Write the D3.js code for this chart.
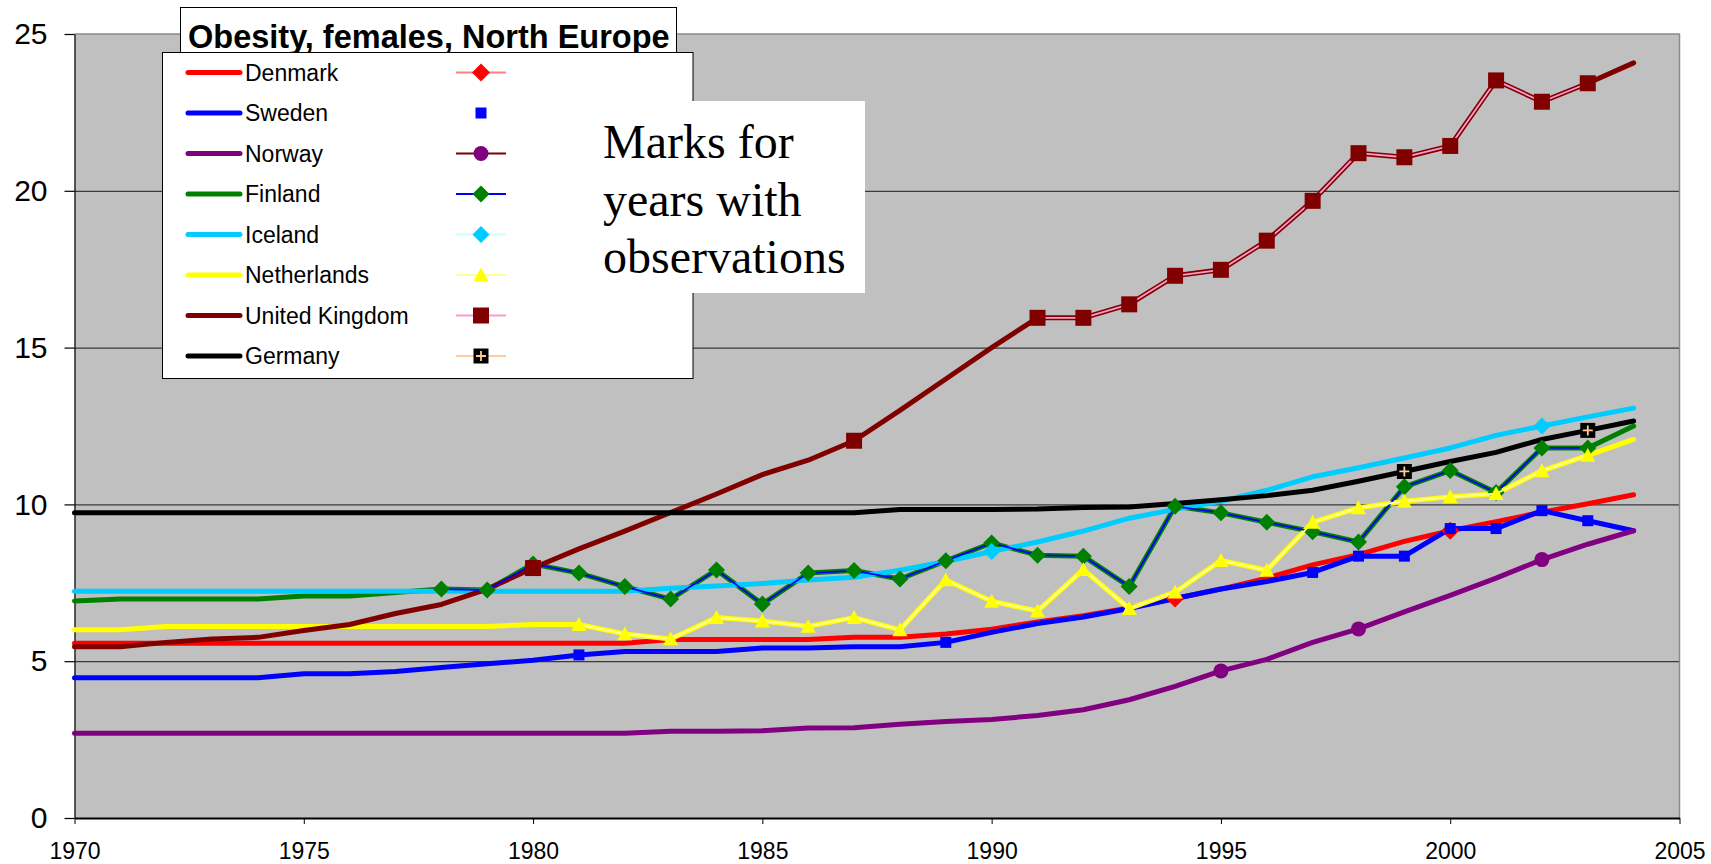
<!DOCTYPE html>
<html>
<head>
<meta charset="utf-8">
<script src="https://cdn.jsdelivr.net/npm/d3@7"></script>
<style>
  body { margin: 0; background: #fff; }
  svg { display: block; font-family: "Liberation Sans", Arial, sans-serif; }
</style>
</head>
<body>
<svg id="chart" width="1711" height="864"></svg>
<script>
// data
const years = [1970, 1971, 1972, 1973, 1974, 1975, 1976, 1977, 1978, 1979,
  1980, 1981, 1982, 1983, 1984, 1985, 1986, 1987, 1988, 1989,
  1990, 1991, 1992, 1993, 1994, 1995, 1996, 1997, 1998, 1999,
  2000, 2001, 2002, 2003, 2004]
const countries = ["Denmark", "Sweden", "Norway", "Finland", "Iceland", "Netherlands", "United Kingdom", "Germany"]

const denmark = [5.57, 5.57, 5.57, 5.57, 5.57, 5.57, 5.57, 5.57, 5.57, 5.57,
  5.57, 5.57, 5.57, 5.69, 5.69, 5.69, 5.69, 5.76, 5.76, 5.87,
  6.02, 6.25, 6.45, 6.7, 7.0, 7.3, 7.65, 8.07, 8.4, 8.82,
  9.16, 9.45, 9.75, 10.02, 10.31]
const sweden = [4.47, 4.47, 4.47, 4.47, 4.47, 4.6, 4.6, 4.67, 4.8, 4.92,
  5.03, 5.2, 5.31, 5.31, 5.31, 5.42, 5.42, 5.46, 5.46, 5.6,
  5.92, 6.2, 6.41, 6.68, 7.0, 7.3, 7.54, 7.83, 8.35, 8.35,
  9.23, 9.23, 9.8, 9.48, 9.16]
const norway = [2.7, 2.7, 2.7, 2.7, 2.7, 2.7, 2.7, 2.7, 2.7, 2.7,
  2.7, 2.7, 2.7, 2.77, 2.77, 2.78, 2.87, 2.88, 2.99, 3.08,
  3.14, 3.27, 3.45, 3.77, 4.2, 4.69, 5.06, 5.6, 6.03, 6.57,
  7.1, 7.65, 8.24, 8.73, 9.16]
const finland = [6.92, 6.98, 6.98, 6.98, 6.98, 7.08, 7.08, 7.19, 7.3, 7.27,
  8.1, 7.81, 7.38, 6.98, 7.91, 6.82, 7.81, 7.89, 7.62, 8.2,
  8.77, 8.38, 8.35, 7.38, 9.94, 9.73, 9.43, 9.13, 8.8, 10.56,
  11.08, 10.38, 11.8, 11.8, 12.5]
const iceland = [7.23, 7.23, 7.23, 7.23, 7.23, 7.23, 7.23, 7.23, 7.23, 7.23,
  7.23, 7.23, 7.23, 7.33, 7.4, 7.48, 7.59, 7.68, 7.9, 8.18,
  8.5, 8.8, 9.15, 9.56, 9.84, 10.1, 10.45, 10.88, 11.17, 11.48,
  11.8, 12.2, 12.5, 12.79, 13.07]
const netherlands = [6.0, 6.0, 6.11, 6.11, 6.11, 6.11, 6.11, 6.11, 6.11, 6.11,
  6.17, 6.17, 5.87, 5.71, 6.39, 6.28, 6.11, 6.39, 6.0, 7.59,
  6.91, 6.6, 7.92, 6.68, 7.2, 8.21, 7.9, 9.43, 9.89, 10.1,
  10.24, 10.34, 11.07, 11.56, 12.07]
const uk = [5.46, 5.46, 5.6, 5.71, 5.76, 5.98, 6.17, 6.52, 6.81, 7.3,
  7.97, 8.58, 9.15, 9.74, 10.33, 10.95, 11.41, 12.03, 13.0, 14.0,
  15.0, 15.95, 15.95, 16.38, 17.29, 17.48, 18.41, 19.68, 21.2, 21.07,
  21.43, 23.52, 22.84, 23.43, 24.08]
const germany = [9.73, 9.73, 9.73, 9.73, 9.73, 9.73, 9.73, 9.73, 9.73, 9.73,
  9.73, 9.73, 9.73, 9.73, 9.73, 9.73, 9.73, 9.73, 9.84, 9.84,
  9.84, 9.85, 9.9, 9.92, 10.03, 10.15, 10.28, 10.45, 10.74, 11.05,
  11.37, 11.66, 12.07, 12.36, 12.66]

// years with observations (marked)
const denmarkObs = [1994, 2000]
const swedenObs = [1981, 1989, 1997, 1998, 1999, 2000, 2001, 2002, 2003]
const norwayObs = [1995, 1998, 2002]
const finlandObs = [1978, 1979, 1980, 1981, 1982, 1983, 1984, 1985, 1986, 1987, 1988, 1989, 1990,
  1991, 1992, 1993, 1994, 1995, 1996, 1997, 1998, 1999, 2000, 2001, 2002, 2003]
const icelandObs = [1990, 2002]
const netherlandsObs = [1981, 1982, 1983, 1984, 1985, 1986, 1987, 1988, 1989, 1990, 1991, 1992,
  1993, 1994, 1995, 1996, 1997, 1998, 1999, 2000, 2001, 2002, 2003]
const ukObs = [1980, 1987, 1991, 1992, 1993, 1994, 1995, 1996, 1997, 1998, 1999, 2000, 2001, 2002, 2003]
const germanyObs = [1999, 2003]

const xTicks = [1970, 1975, 1980, 1985, 1990, 1995, 2000, 2005]
const yTicks = [0, 5, 10, 15, 20, 25]
const title = "Obesity, females, North Europe"
const note = ["Marks for", "years with", "observations"]

const series = [
  { name: countries[0], values: denmark, obs: denmarkObs },
  { name: countries[1], values: sweden, obs: swedenObs },
  { name: countries[2], values: norway, obs: norwayObs },
  { name: countries[3], values: finland, obs: finlandObs },
  { name: countries[4], values: iceland, obs: icelandObs },
  { name: countries[5], values: netherlands, obs: netherlandsObs },
  { name: countries[6], values: uk, obs: ukObs },
  { name: countries[7], values: germany, obs: germanyObs },
]

// look of each country
const styles = {
  "Denmark": { line: "#ff0000", shape: "diamond", fill: "#ff0000", markLine: "#ff8080", r: 9 },
  "Sweden": { line: "#0000ff", shape: "square", fill: "#0000ff", markLine: null, r: 5.5 },
  "Norway": { line: "#800080", shape: "circle", fill: "#800080", markLine: "#800000", r: 7.5 },
  "Finland": { line: "#008000", shape: "diamond", fill: "#008000", markLine: "#0000ff", r: 8.5 },
  "Iceland": { line: "#00ccff", shape: "diamond", fill: "#00ccff", markLine: "#ccffff", r: 8.5 },
  "Netherlands": { line: "#ffff00", shape: "triangle", fill: "#ffff00", markLine: "#ffff99", r: 7.5 },
  "United Kingdom": { line: "#800000", shape: "square", fill: "#800000", markLine: "#ff99cc", r: 8 },
  "Germany": { line: "#000000", shape: "plus", fill: "#000000", markLine: "#ffcc99", r: 7.5 },
}

const svg = d3.select("#chart")
const x = d3.scaleLinear().domain([1970, 2005]).range([74.5, 1679.5])
const y = d3.scaleLinear().domain([0, 25]).range([818, 34])
const plotW = x(2005) - x(1970)

// plot area
svg.append("rect")
  .attr("x", x(1970)).attr("y", y(25))
  .attr("width", plotW).attr("height", y(0) - y(25))
  .attr("fill", "#c0c0c0")

const grid = svg.append("g")
  .attr("transform", `translate(${x(1970)},0)`)
  .call(d3.axisLeft(y).tickValues(yTicks.filter(v => v > 0 && v < 25)).tickSize(-plotW).tickFormat(""))
grid.select(".domain").remove()
grid.selectAll("line").attr("stroke", "#3a3a3a").attr("stroke-width", 1.2)

svg.append("path")
  .attr("d", `M${x(1970)},${y(25)}H${x(2005)}V${y(0)}`)
  .attr("fill", "none").attr("stroke", "#8a8a8a").attr("stroke-width", 1.5)

const yAxis = svg.append("g")
  .attr("transform", `translate(${x(1970)},0)`)
  .call(d3.axisLeft(y).tickValues(yTicks).tickSize(10).tickSizeOuter(0).tickPadding(17))
yAxis.selectAll("text").attr("font-size", "30px").attr("fill", "#000")
  .attr("font-family", '"Liberation Sans", Arial, sans-serif')
yAxis.selectAll("line, path").attr("stroke", "#000").attr("stroke-width", 1.2)

const xAxis = svg.append("g")
  .attr("transform", `translate(0,${y(0)})`)
  .call(d3.axisBottom(x).tickValues(xTicks).tickFormat(d3.format("d")).tickSize(6).tickSizeOuter(0).tickPadding(19))
xAxis.selectAll("text").attr("font-size", "23px").attr("fill", "#000")
  .attr("font-family", '"Liberation Sans", Arial, sans-serif')
xAxis.selectAll("line").attr("stroke", "#000")
xAxis.select(".domain").attr("stroke", "#000").attr("stroke-width", 1.8)

// series points
const points = series.map(s => ({
  name: s.name,
  pts: years.map((yr, i) => ({ year: yr, value: s.values[i], obs: s.obs.includes(yr) })),
}))

const line = d3.line().x(d => x(d.year)).y(d => y(d.value))
const obsLine = d3.line().defined(d => d.obs).x(d => x(d.year)).y(d => y(d.value))

const lines = svg.append("g")
points.forEach(p => {
  lines.append("path")
    .attr("d", line(p.pts))
    .attr("fill", "none")
    .attr("stroke", styles[p.name].line)
    .attr("stroke-width", 5)
    .attr("stroke-linejoin", "round")
    .attr("stroke-linecap", "round")
})

const drawMark = (g, cx, cy, st) => {
  const r = st.r
  if (st.shape === "circle") {
    g.append("circle").attr("cx", cx).attr("cy", cy).attr("r", r).attr("fill", st.fill)
    return
  }
  let d = ""
  if (st.shape === "diamond") d = `M0,${-r}L${r},0L0,${r}L${-r},0Z`
  else if (st.shape === "square" || st.shape === "plus") d = `M${-r},${-r}H${r}V${r}H${-r}Z`
  else if (st.shape === "triangle") d = `M0,${-r}L${r},${r * 0.85}L${-r},${r * 0.85}Z`
  g.append("path")
    .attr("transform", `translate(${cx},${cy})`)
    .attr("d", d)
    .attr("fill", st.fill)
  if (st.shape === "plus") {
    g.append("path")
      .attr("transform", `translate(${cx},${cy})`)
      .attr("d", `M${-r + 2.5},0H${r - 2.5}M0,${-r + 2.5}V${r - 2.5}`)
      .attr("stroke", st.markLine)
      .attr("stroke-width", 1.8)
  }
}

const marks = svg.append("g")
points.forEach(p => {
  const st = styles[p.name]
  if (st.markLine) {
    marks.append("path")
      .attr("d", obsLine(p.pts))
      .attr("fill", "none")
      .attr("stroke", st.markLine)
      .attr("stroke-width", 1.8)
      .attr("stroke-linejoin", "round")
  }
  p.pts.filter(d => d.obs).forEach(d => drawMark(marks, x(d.year), y(d.value), st))
})

// title box
svg.append("rect")
  .attr("x", 180.5).attr("y", 7.5).attr("width", 496).attr("height", 60)
  .attr("fill", "#fff").attr("stroke", "#000").attr("stroke-width", 1)
svg.append("text")
  .attr("x", 188).attr("y", 48)
  .attr("font-size", "32.5px").attr("font-weight", "bold")
  .text(title)

// legend
const legend = svg.append("g")
legend.append("rect")
  .attr("x", 162.5).attr("y", 52.5).attr("width", 530.5).attr("height", 326)
  .attr("fill", "#fff").attr("stroke", "#000").attr("stroke-width", 1)
countries.forEach((c, i) => {
  const st = styles[c]
  const ry = 72.5 + i * 40.5
  legend.append("line")
    .attr("x1", 188).attr("x2", 240).attr("y1", ry).attr("y2", ry)
    .attr("stroke", st.line).attr("stroke-width", 5).attr("stroke-linecap", "round")
  legend.append("text")
    .attr("x", 245).attr("y", ry + 8)
    .attr("font-size", "23px")
    .text(c)
  if (st.markLine) {
    legend.append("line")
      .attr("x1", 456).attr("x2", 506).attr("y1", ry).attr("y2", ry)
      .attr("stroke", st.markLine).attr("stroke-width", 1.8)
  }
  drawMark(legend, 481, ry, st)
})

// note box
svg.append("rect")
  .attr("x", 586).attr("y", 101).attr("width", 279).attr("height", 192)
  .attr("fill", "#fff")
svg.append("g").selectAll("text")
  .data(note)
  .join("text")
  .attr("x", 603)
  .attr("y", (d, i) => 158 + i * 57.5)
  .attr("font-family", '"Liberation Serif", "Times New Roman", serif')
  .attr("font-size", "48px")
  .text(d => d)
</script>
</body>
</html>
